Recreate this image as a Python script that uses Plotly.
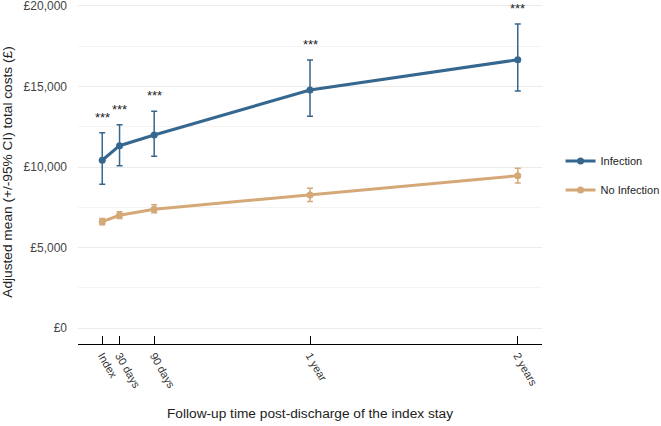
import plotly.graph_objects as go

# Data
time_labels = ["Index", "30 days", "90 days", "1 year", "2 years"]
time_months = [0, 1, 3, 12, 24]

inf_mean = [10420, 11320, 11985, 14775, 16650]
inf_lower = [8930, 10080, 10665, 13145, 14710]
inf_upper = [12130, 12625, 13455, 16635, 18865]

noinf_mean = [6610, 7005, 7380, 8265, 9460]
noinf_lower = [6420, 6800, 7165, 7860, 9010]
noinf_upper = [6800, 7230, 7665, 8680, 9920]

significance = ["***", "***", "***", "***", "***"]

y_ticks = [0, 5000, 10000, 15000, 20000]
y_tick_labels = ["£0", "£5,000", "£10,000", "£15,000", "£20,000"]

C_INF = "#36678f"
C_NO = "#d4a877"

fig = go.Figure()

def add_series(name, mean, lower, upper, color):
    fig.add_trace(go.Scatter(
        x=time_months, y=mean, name=name, mode="lines+markers",
        line=dict(color=color, width=3),
        marker=dict(color=color, size=7),
        legendgroup=name,
        error_y=dict(type="data", symmetric=False,
                     array=[u - m for u, m in zip(upper, mean)],
                     arrayminus=[m - l for m, l in zip(mean, lower)],
                     color=color, thickness=1.5, width=3),
    ))

add_series("Infection", inf_mean, inf_lower, inf_upper, C_INF)
add_series("No Infection", noinf_mean, noinf_lower, noinf_upper, C_NO)

for x, u, s in zip(time_months, inf_upper, significance):
    fig.add_annotation(x=x, y=u, text=s, showarrow=False, yanchor="bottom",
                       yshift=6, font=dict(size=13, color="#222222"))

fig.update_layout(
    width=661, height=426,
    margin=dict(l=78, r=119, t=0, b=82, autoexpand=False),
    paper_bgcolor="white", plot_bgcolor="white",
    font=dict(family="Liberation Sans, Arial, sans-serif", color="#333333", size=12),
    showlegend=True,
    legend=dict(x=1.04, xanchor="left", y=0.49, yanchor="middle",
                traceorder="grouped", tracegroupgap=10,
                font=dict(size=11, color="#222222"), bgcolor="rgba(0,0,0,0)"),
    xaxis=dict(
        range=[-1.4, 25.4], tickmode="array", tickvals=time_months, ticktext=time_labels,
        tickangle=60, showgrid=False, zeroline=False, automargin=False,
        showline=True, linecolor="black", linewidth=1.2,
        ticks="inside", ticklen=8, tickcolor="black", tickwidth=1.2,
        tickfont=dict(size=11, color="#333333"),
        title=dict(text="Follow-up time post-discharge of the index stay",
                   font=dict(size=13.7, color="#222222"), standoff=19),
    ),
    yaxis=dict(
        range=[-975, 20355], tickmode="array", tickvals=y_ticks, ticktext=y_tick_labels,
        showgrid=True, gridcolor="#ebebeb", gridwidth=1.2, zeroline=False,
        minor=dict(dtick=2500, showgrid=True, gridcolor="#f4f4f4", gridwidth=0.8),
        showline=False, ticks="", ticklabelstandoff=10, automargin=False,
        ticklabeloverflow="allow",
        tickfont=dict(size=12, color="#444444"),
        title=dict(text="Adjusted mean (+/-95% CI) total costs (£)",
                   font=dict(size=13.7, color="#222222"), standoff=8),
    ),
)

fig.write_html("out.html", config={"displayModeBar": False},
               post_script="document.body.style.margin='0';document.body.style.overflow='hidden';")
